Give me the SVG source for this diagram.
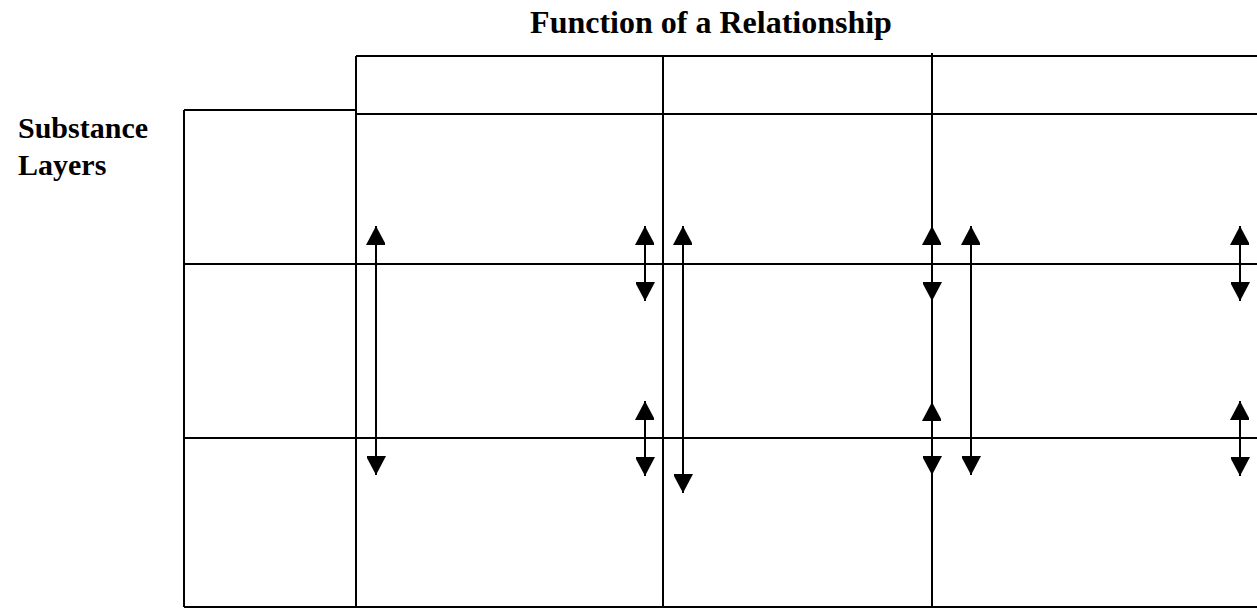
<svg xmlns="http://www.w3.org/2000/svg" width="1257" height="610" viewBox="0 0 1257 610">
  <style>
    .ln { stroke: #000; stroke-width: 2; fill: none; }
    .ar { stroke: #000; stroke-width: 2; fill: none; marker-start: url(#head); marker-end: url(#head); }
    .lbl { font-family: "Liberation Serif", "Times New Roman", serif; font-weight: bold; fill: #000; }
  </style>
  <defs>
    <marker id="head" viewBox="0 0 20 19" refX="19" refY="10" markerWidth="20" markerHeight="19" markerUnits="userSpaceOnUse" orient="auto-start-reverse">
      <path d="M0,0 L19,10 L0,20 Z" fill="#000"/>
    </marker>
  </defs>
  <rect width="1257" height="610" fill="#fff"/>
  <g id="title"><text class="lbl" x="711" y="33" font-size="32" text-anchor="middle">Function of a Relationship</text></g>
  <g id="substance-layers">
    <text class="lbl" x="18" y="138" font-size="30">Substance</text>
    <text class="lbl" x="18" y="175" font-size="30">Layers</text>
  </g>
  <g id="grid">
    <line class="ln" x1="356" y1="56" x2="1257" y2="56"/>
    <line class="ln" x1="356" y1="114" x2="1257" y2="114"/>
    <line class="ln" x1="184" y1="110" x2="356" y2="110"/>
    <line class="ln" x1="184" y1="264" x2="1257" y2="264"/>
    <line class="ln" x1="184" y1="438" x2="1257" y2="438"/>
    <line class="ln" x1="184" y1="607" x2="1257" y2="607"/>
    <line class="ln" x1="184" y1="110" x2="184" y2="607"/>
    <line class="ln" x1="356" y1="56" x2="356" y2="607"/>
    <line class="ln" x1="663" y1="56" x2="663" y2="607"/>
    <line class="ln" x1="932" y1="53" x2="932" y2="607"/>
  </g>
  <g id="connectors">
    <line class="ar" x1="376" y1="226" x2="376" y2="475"/>
    <line class="ar" x1="645" y1="226" x2="645" y2="301"/>
    <line class="ar" x1="645" y1="401" x2="645" y2="476"/>
    <line class="ar" x1="683" y1="226" x2="683" y2="493"/>
    <line class="ar" x1="932" y1="226" x2="932" y2="301"/>
    <line class="ar" x1="932" y1="402" x2="932" y2="475"/>
    <line class="ar" x1="971" y1="226" x2="971" y2="475"/>
    <line class="ar" x1="1240" y1="226" x2="1240" y2="301"/>
    <line class="ar" x1="1240" y1="401" x2="1240" y2="476"/>
  </g>
</svg>
